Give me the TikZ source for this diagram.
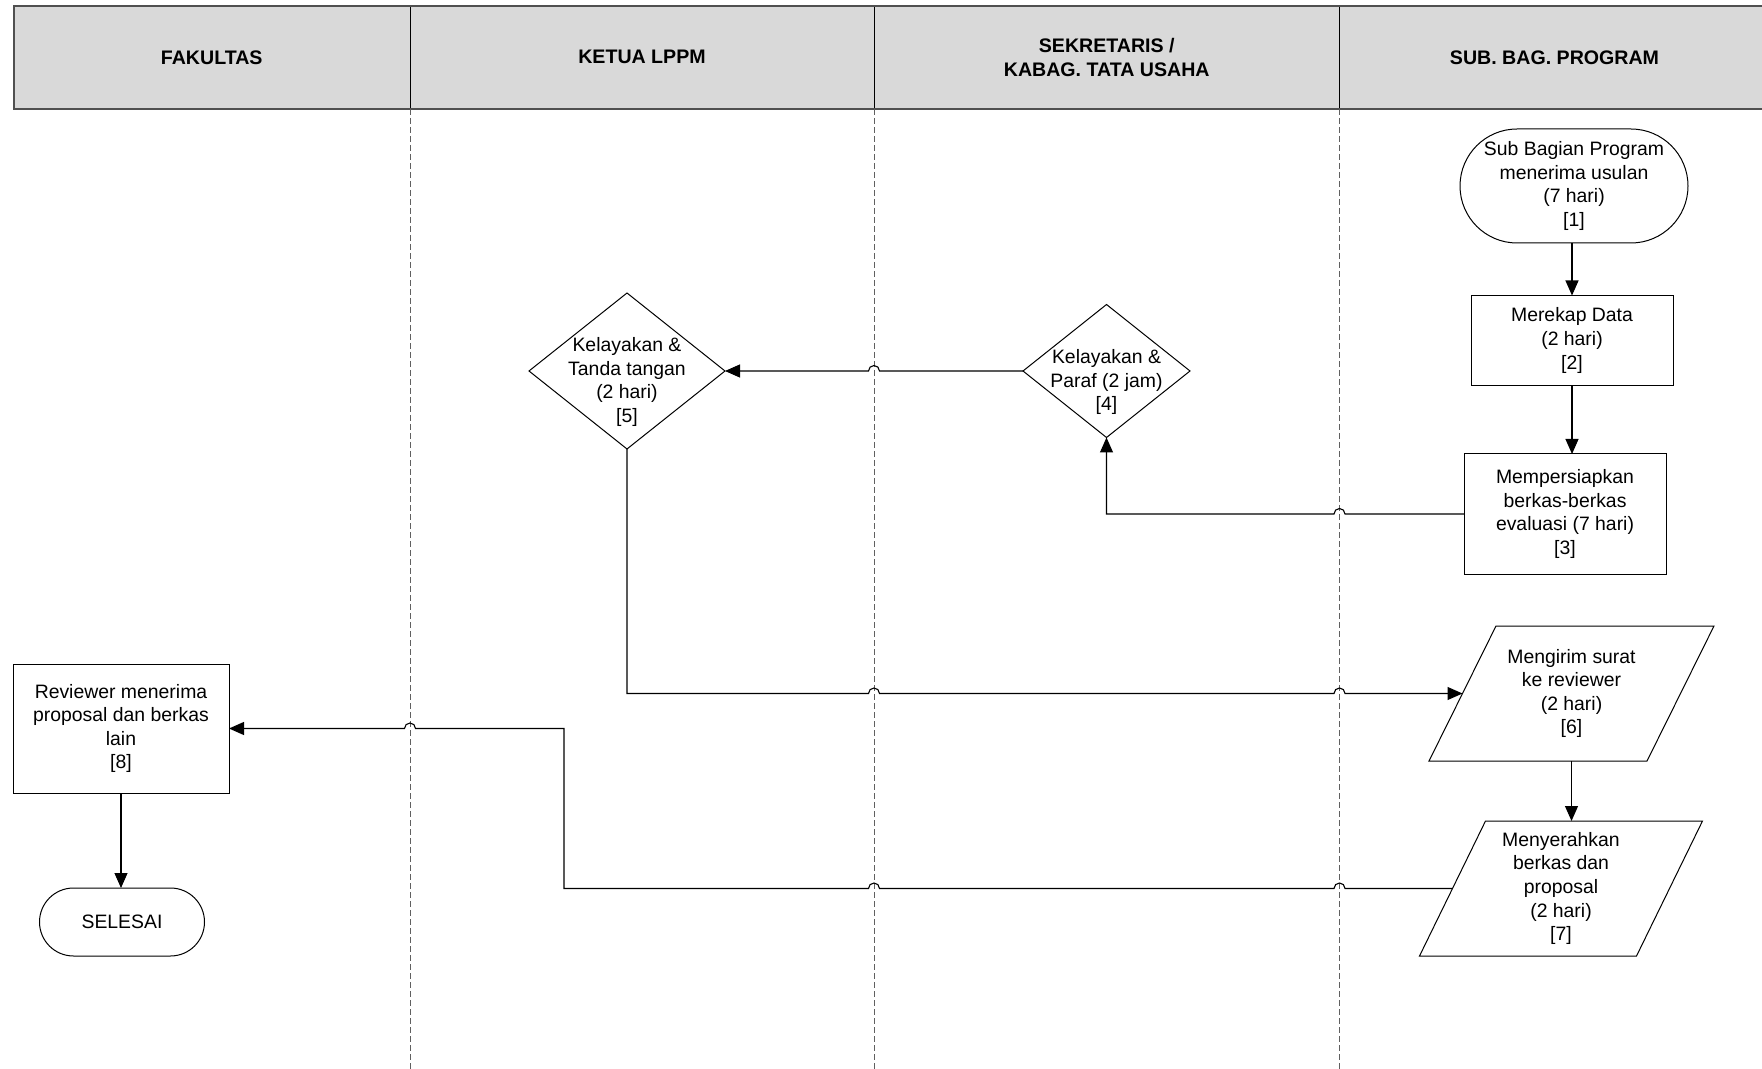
\documentclass[tikz,border=0pt]{standalone}
\usepackage{fontspec}
\setmainfont{Liberation Sans}
\usetikzlibrary{shapes.geometric,shapes.misc,arrows.meta,calc}
\definecolor{hdrfill}{HTML}{D9D9D9}
\definecolor{hdrline}{HTML}{505050}
\definecolor{laneline}{HTML}{606060}
\newcommand\hopr{5.5}
\begin{document}
\begin{tikzpicture}[x=0.5pt,y=-0.5pt,
  every node/.style={font=\fontsize{9.7}{11.8}\selectfont, inner sep=0pt, outer sep=0pt},
  box/.style={draw, line width=0.5pt, align=center, rectangle},
  term/.style={draw, line width=0.5pt, align=center, rounded rectangle},
  dia/.style={draw, line width=0.5pt, diamond},
  io/.style={align=center, rectangle},
  txt/.style={align=center},
  hdr/.style={draw, fill=hdrfill, line width=0.4pt, minimum height=51.7pt,
    font=\bfseries\fontsize{9.8}{11.8}\selectfont, align=center},
  lane/.style={draw=laneline, line width=0.4pt, dash pattern=on 3pt off 1.5pt},
  arr/.style={line width=0.55pt, -{Triangle[length=7.5pt,width=6.5pt]}},
  ]
\useasboundingbox (0,0) rectangle (1762,1069);

% swimlane header
\node[hdr, minimum width=198.25pt] (h1) at (211.75,57.3) {FAKULTAS};
\node[hdr, minimum width=232pt] (h2) at (642,57.3) {KETUA LPPM};
\node[hdr, minimum width=232.75pt] (h3) at (1106.75,57.3) {SEKRETARIS /\\KABAG. TATA USAHA};
\node[hdr, minimum width=215pt] (h4) at (1769.5,57.3) [anchor=east] {SUB. BAG. PROGRAM};
\draw[draw=hdrline, line width=1pt] (h1.north west) rectangle (1780,109);

% lane separators
\coordinate (L1) at (410,0);
\coordinate (L2) at (874,0);
\coordinate (L3) at (1339.5,0);
\draw[lane] (410,109) -- (410,1069);
\draw[lane] (874,109) -- (874,1069);
\draw[lane] (1339.5,109) -- (1339.5,1069);

% SUB. BAG. PROGRAM
\node[term, minimum width=114pt, minimum height=57pt] (n1) at (1574,186)
  {Sub Bagian Program\\menerima usulan\\(7 hari)\\{[1]}};
\node[box, minimum width=101pt, minimum height=45pt] (n2) at (1572,340.5)
  {Merekap Data\\(2 hari)\\{[2]}};
\node[box, minimum width=101pt, minimum height=60pt] (n3) at (1565,514)
  {Mempersiapkan\\berkas-berkas\\evaluasi (7 hari)\\{[3]}};
\node[io, minimum width=109pt, minimum height=67.5pt] (p6) at (1571.5,693.5)
  {Mengirim surat\\ke reviewer\\(2 hari)\\{[6]}};
\draw[line width=0.5pt] ($(p6.north west)+(16.75pt,0pt)$) -- ($(p6.north east)+(16.75pt,0pt)$)
  -- ($(p6.south east)-(16.75pt,0pt)$) -- ($(p6.south west)-(16.75pt,0pt)$) -- cycle;
\node[io, minimum width=108.5pt, minimum height=67.5pt] (p7) at (1561,888.5)
  {Menyerahkan\\berkas dan\\proposal\\(2 hari)\\{[7]}};
\draw[line width=0.5pt] ($(p7.north west)+(16.5pt,0pt)$) -- ($(p7.north east)+(16.5pt,0pt)$)
  -- ($(p7.south east)-(16.5pt,0pt)$) -- ($(p7.south west)-(16.5pt,0pt)$) -- cycle;

% SEKRETARIS / KABAG. TATA USAHA
\node[dia, minimum width=83.5pt, minimum height=66.5pt] (d4) at (1106.5,371) {};
\node[txt] (d4t) at (1106.5,382) {Kelayakan \&\\Paraf (2 jam)\\{[4]}};

% KETUA LPPM
\node[dia, minimum width=98pt, minimum height=78pt] (d5) at (627,371) {};
\node[txt] (d5t) at (627,382) {Kelayakan \&\\Tanda tangan\\(2 hari)\\{[5]}};

% FAKULTAS
\node[box, minimum width=108pt, minimum height=64.5pt] (r8) at (121,728.5)
  {Reviewer menerima\\proposal dan berkas\\lain\\{[8]}};
\node[term, minimum width=82.5pt, minimum height=34pt] (n9) at (122,922) {SELESAI};

% connectors
\coordinate (bend7) at (564,0);
\draw[arr] (n2.north |- n1.south) -- (n2.north);
\draw[arr] (n2.south) -- (n2.south |- n3.north);
\draw[arr] (n3.west) -- ($(L3 |- n3.west)+(\hopr,0)$) arc[start angle=0,end angle=-180,radius=\hopr]
  -- (d4.south |- n3.west) -- (d4.south);
\draw[arr] (d4.west) -- ($(L2 |- d4.west)+(\hopr,0)$) arc[start angle=0,end angle=-180,radius=\hopr]
  -- (d5.east);
\draw[arr] (d5.south) -- (d5.south |- p6.west)
  -- ($(L2 |- p6.west)-(\hopr,0)$) arc[start angle=180,end angle=360,radius=\hopr]
  -- ($(L3 |- p6.west)-(\hopr,0)$) arc[start angle=180,end angle=360,radius=\hopr]
  -- (p6.west);
\draw[arr] (p6.south) -- (p6.south |- p7.north);
\draw[arr] (p7.west) -- ($(L3 |- p7.west)+(\hopr,0)$) arc[start angle=0,end angle=-180,radius=\hopr]
  -- ($(L2 |- p7.west)+(\hopr,0)$) arc[start angle=0,end angle=-180,radius=\hopr]
  -- (bend7 |- p7.west) -- (bend7 |- r8.east)
  -- ($(L1 |- r8.east)+(\hopr,0)$) arc[start angle=0,end angle=-180,radius=\hopr]
  -- (r8.east);
\draw[arr] (r8.south) -- (r8.south |- n9.north);
\end{tikzpicture}
\end{document}
